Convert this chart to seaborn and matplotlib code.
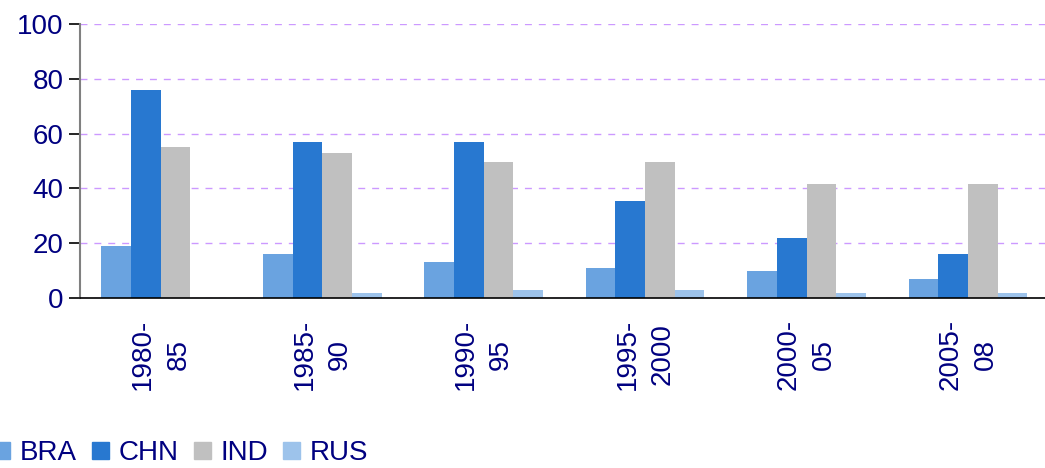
import numpy as np
import pandas as pd
import matplotlib
matplotlib.use("Agg")
import matplotlib.pyplot as plt
import seaborn as sns

# values
periods = ["1980-\n85", "1985-\n90", "1990-\n95", "1995-\n2000", "2000-\n05", "2005-\n08"]
countries = ["BRA", "CHN", "IND", "RUS"]
bra = [19, 16, 13, 11, 10, 7]
chn = [76, 57, 57, 35.5, 22, 16]
ind = [55, 53, 49.5, 49.5, 41.5, 41.5]
rus = [0, 2, 3, 3, 2, 2]
yticks = [0, 20, 40, 60, 80, 100]

colors = ["#6AA3E0", "#2878D0", "#C0C0C0", "#9DC3EB"]
navy = "#000080"

df = pd.DataFrame({"period": periods * 4,
                   "country": np.repeat(countries, len(periods)),
                   "value": bra + chn + ind + rus})

sns.set_style("white")
plt.rcParams["font.family"] = ["Liberation Sans", "DejaVu Sans"]

fig = plt.figure(figsize=(10.45, 4.68), dpi=100)
ax = fig.add_axes([0.0766, 0.3632, 0.927, 0.5855])

sns.barplot(data=df, x="period", y="value", hue="country", hue_order=countries,
            palette=colors, width=0.735, saturation=1, linewidth=0, ax=ax, legend=True)

ax.set_xlim(-0.5, 5.5)
ax.set_ylim(0, 100)
ax.set_yticks(yticks)
ax.set_yticklabels([str(v) for v in yticks], fontsize=20, color=navy)
ax.yaxis.grid(True, color="#CC99FF", linestyle=(0, (5, 5)), linewidth=1)
ax.set_axisbelow(True)

ax.set_xticks(range(len(periods)))
ax.set_xticklabels(periods, rotation=90, fontsize=20, color=navy,
                   va="top", ha="center", multialignment="center", linespacing=1.45)
ax.set_xticks(np.arange(-0.5, 6, 1), minor=True)
ax.tick_params(axis="x", which="major", length=0, pad=15)
ax.tick_params(axis="x", which="minor", length=8, width=1.2, color="black", direction="out")
ax.tick_params(axis="y", length=8, width=1.2, color="black", direction="out", pad=4, left=True)
ax.set_xlabel("")
ax.set_ylabel("")

sns.despine(ax=ax, top=True, right=True)
ax.spines["left"].set_color("#808080")
ax.spines["left"].set_linewidth(1.5)
ax.spines["bottom"].set_color("black")
ax.spines["bottom"].set_linewidth(1.2)

ax.legend_.remove()
handles = [plt.Rectangle((0, 0), 1, 1, color=c) for c in colors]
fig.legend(handles, countries, loc="lower left", bbox_to_anchor=(-0.03, -0.05),
           ncol=4, frameon=False, fontsize=20, labelcolor=navy,
           handlelength=0.6, handleheight=0.6, handletextpad=0.35, columnspacing=0.55)

fig.savefig("out.png", dpi=100)
